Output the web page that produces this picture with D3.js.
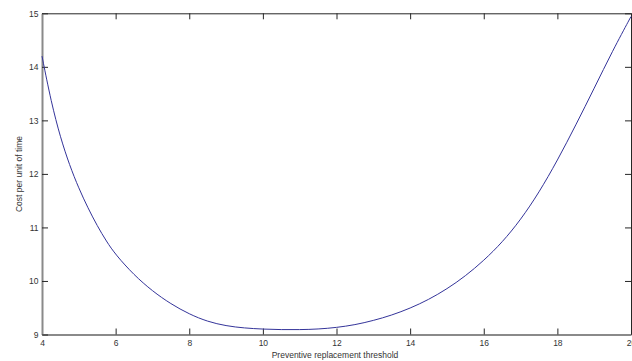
<!DOCTYPE html>
<html>
<head>
<meta charset="utf-8">
<script src="https://cdn.jsdelivr.net/npm/d3@7"></script>
<style>
  body { margin: 0; background: #fff; }
  svg { display: block; font-family: "Liberation Sans", Arial, sans-serif; }
</style>
</head>
<body>
<svg width="632" height="361"></svg>
<script>
// threshold values and the cost
var thresholds = [4, 4.25, 4.5, 4.75, 5, 5.25, 5.5, 5.75, 6, 6.5, 7, 7.5, 8, 8.5, 9, 9.5, 10, 10.5, 11, 11.5,
  12, 12.5, 13, 13.5, 14, 14.5, 15, 15.5, 16, 16.5, 17, 17.5, 18, 18.5, 19, 19.5, 20];
var costs = [14.2, 13.34, 12.68, 12.16, 11.73, 11.36, 11.03, 10.74, 10.49, 10.11, 9.81, 9.57, 9.38, 9.24,
  9.16, 9.12, 9.10, 9.09, 9.09, 9.10, 9.13, 9.18, 9.26, 9.36, 9.49, 9.65, 9.85, 10.09, 10.38,
  10.72, 11.14, 11.65, 12.25, 12.91, 13.60, 14.30, 14.94];
var xTicks = [4, 6, 8, 10, 12, 14, 16, 18, 20];
var yTicks = [9, 10, 11, 12, 13, 14, 15];

(function () {
var svg = d3.select('svg');
var pLeft = 42, pRight = 631, pTop = 13.3, pBottom = 334.5;

var x = d3.scaleLinear().domain([4, 20]).range([pLeft, pRight]);
var y = d3.scaleLinear().domain([9, 15]).range([pBottom, pTop]);

var dark = function (g) {
  g.select('.domain').attr('stroke', '#262626');
  g.selectAll('.tick line').attr('stroke', '#262626');
};
var labelled = function (g) {
  g.select('.domain').attr('stroke', '#8a8a8a').attr('stroke-width', 2);
  g.selectAll('.tick line').attr('stroke', '#262626');
  g.selectAll('.tick text').attr('fill', '#333').style('font-size', '8.5px')
    .style('font-family', 'Liberation Sans, Arial, sans-serif');
};

// top and right frame with inward ticks, no labels
svg.append('g').attr('transform', 'translate(0,' + pTop + ')')
  .call(d3.axisTop(x).tickValues(xTicks).tickSize(-6).tickSizeOuter(0).tickFormat(''))
  .call(dark);
svg.append('g').attr('transform', 'translate(' + pRight + ',0)')
  .call(d3.axisRight(y).tickValues(yTicks).tickSize(-6).tickSizeOuter(0).tickFormat(''))
  .call(dark);

// bottom and left axes
svg.append('g').attr('transform', 'translate(0,' + pBottom + ')')
  .call(d3.axisBottom(x).tickValues(xTicks).tickSize(-6).tickSizeOuter(0).tickPadding(5).tickFormat(d3.format('d')))
  .call(labelled);
svg.append('g').attr('transform', 'translate(' + pLeft + ',0)')
  .call(d3.axisLeft(y).tickValues(yTicks).tickSize(-6).tickSizeOuter(0).tickPadding(3.5).tickFormat(d3.format('d')))
  .call(labelled);

// the curve
var line = d3.line()
  .x(function (d, i) { return x(thresholds[i]); })
  .y(function (d) { return y(d); })
  .curve(d3.curveBasis);
svg.append('path')
  .datum(costs)
  .attr('d', line)
  .attr('fill', 'none')
  .attr('stroke', '#34349a')
  .attr('stroke-width', 1);

// axis titles
svg.append('text')
  .attr('x', 335).attr('y', 357.5)
  .attr('text-anchor', 'middle')
  .attr('fill', '#333').style('font-size', '8.5px')
  .text('Preventive replacement threshold');
svg.append('text')
  .attr('transform', 'translate(22,174) rotate(-90)')
  .attr('text-anchor', 'middle')
  .attr('fill', '#333').style('font-size', '8.5px')
  .text('Cost per unit of time');
})();
</script>
</body>
</html>
